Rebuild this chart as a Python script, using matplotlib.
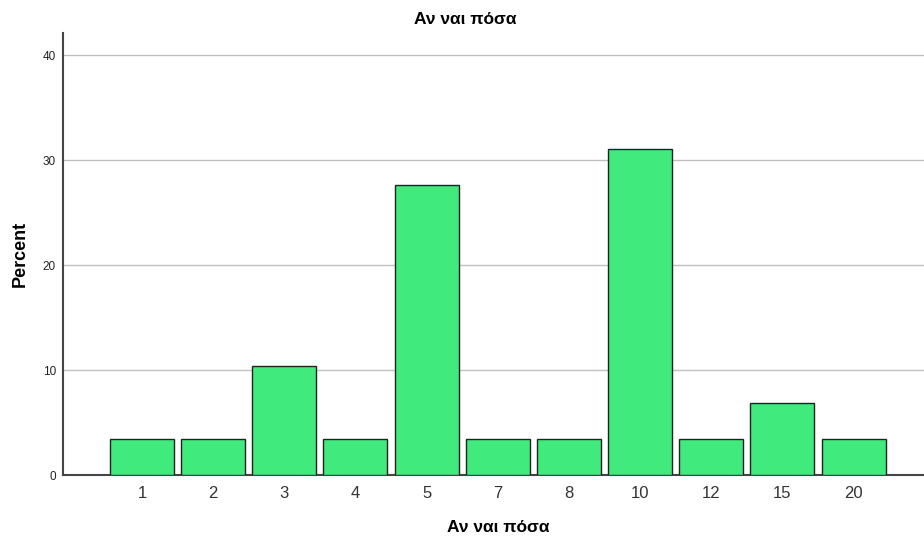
import numpy as np
import matplotlib
matplotlib.use('Agg')
import matplotlib.pyplot as plt

plt.rcParams['font.family'] = ['Liberation Sans', 'DejaVu Sans']

# data: percent per answer
categories = ['1', '2', '3', '4', '5', '7', '8', '10', '12', '15', '20']
percent = [3.45, 3.45, 10.34, 3.45, 27.59, 3.45, 3.45, 31.03, 3.45, 6.90, 3.45]

fig = plt.figure(figsize=(9.24, 5.39), dpi=100)
ax = fig.add_axes([63/924, 64/539, 1 - 63/924, 442/539])

x = np.arange(len(categories))
ax.bar(x, percent, width=0.9, color='#41EA7C', edgecolor='#222222', linewidth=1.0, zorder=3)

ax.set_xlim(-1.11, 10.99)
ax.set_ylim(0, 42.1)
ax.set_yticks([0, 10, 20, 30, 40])
ax.set_xticks(x)
ax.set_xticklabels(categories)
ax.yaxis.grid(True, color='#c0c0c0', linewidth=1.0, zorder=0)
ax.tick_params(axis='both', length=0)
ax.tick_params(axis='y', labelsize=8.5, pad=5, labelcolor='#222222')
ax.tick_params(axis='x', labelsize=12, pad=8, labelcolor='#333333')

for s in ['top', 'right']:
    ax.spines[s].set_visible(False)
for s in ['left', 'bottom']:
    ax.spines[s].set_color('#444444')
    ax.spines[s].set_linewidth(1.5)

ax.set_ylabel('Percent', fontsize=13, fontweight='bold', labelpad=10)
ax.set_xlabel('Αν ναι πόσα', fontsize=12.5, fontweight='bold')
ax.xaxis.set_label_coords(0.505, -0.102)
fig.text(0.504, 0.964, 'Αν ναι πόσα', ha='center', va='center', fontsize=12.5, fontweight='bold')

fig.savefig('out.png', dpi=100)
